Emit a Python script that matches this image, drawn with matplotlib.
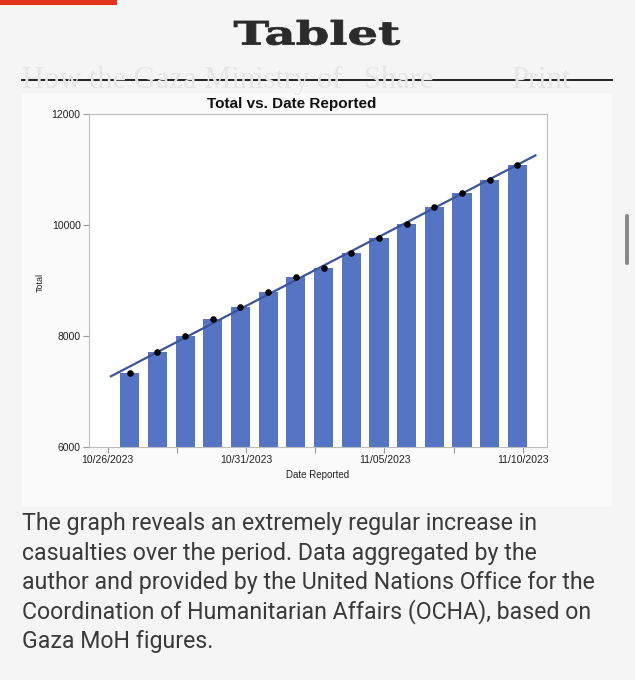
import numpy as np
import pandas as pd
import matplotlib
matplotlib.use("Agg")
import matplotlib.pyplot as plt
import matplotlib.dates as mdates
from matplotlib.patches import Rectangle, FancyBboxPatch, PathPatch
from matplotlib.textpath import TextPath
from matplotlib.font_manager import FontProperties
from matplotlib.transforms import Affine2D

# data (Gaza MoH totals as reported by OCHA)
dates_reported = ["2023-10-27", "2023-10-28", "2023-10-29", "2023-10-30", "2023-10-31",
                  "2023-11-01", "2023-11-02", "2023-11-03", "2023-11-04", "2023-11-05",
                  "2023-11-06", "2023-11-07", "2023-11-08", "2023-11-09", "2023-11-10"]
totals = [7326, 7703, 8005, 8306, 8525, 8796, 9061, 9227, 9488, 9770,
          10022, 10328, 10569, 10812, 11078]
tick_dates = ["2023-10-26", "2023-10-31", "2023-11-05", "2023-11-10"]
tick_labels = ["10/26/2023", "10/31/2023", "11/05/2023", "11/10/2023"]
y_ticks = [6000, 8000, 10000, 12000]

caption = ["The graph reveals an extremely regular increase in",
           "casualties over the period. Data aggregated by the",
           "author and provided by the United Nations Office for the",
           "Coordination of Humanitarian Affairs (OCHA), based on",
           "Gaza MoH figures."]

W, H = 635, 680
fig = plt.figure(figsize=(W / 100, H / 100), dpi=100)
fig.patch.set_facecolor("#f5f5f5")

# page decorations drawn in pixel coordinates
bg = fig.add_axes([0, 0, 1, 1], zorder=0)
bg.set_xlim(0, W)
bg.set_ylim(H, 0)
bg.axis("off")

bg.add_patch(Rectangle((0, 0), 117, 5, color="#e0341e", lw=0))

fp = FontProperties(family="DejaVu Serif", weight="bold")
logo = TextPath((0, 0), "Tablet", size=1, prop=fp)
bb = logo.get_extents()
tr = (Affine2D().translate(-bb.x0, -bb.y0)
      .scale(166 / bb.width, -25 / bb.height).translate(234, 45))
bg.add_patch(PathPatch(tr.transform_path(logo), color="#2b2b2b", lw=0.6))

faded = "#e6e6e6"
bg.text(22, 88, "How the Gaza Ministry of", fontsize=22, family="Liberation Serif",
        color=faded, va="baseline")
bg.text(364, 88, "Share", fontsize=22, family="Liberation Serif", color=faded, va="baseline")
bg.text(511, 88, "Print", fontsize=22, family="Liberation Serif", color=faded, va="baseline")
bg.plot([22, 612], [80, 80], color="#111111", lw=1.3)

bg.add_patch(Rectangle((22, 93), 590, 414, color="#fbfbfb", lw=0))
bg.add_patch(FancyBboxPatch((625, 214), 4, 51, boxstyle="round,pad=0,rounding_size=2",
                            color="#8a8a8a", lw=0))

bg.text(292, 104, "Total vs. Date Reported", fontsize=11, weight="bold",
        family="Liberation Sans", ha="center", va="center", color="#111111")
bg.text(40, 282, "Total", fontsize=6.5, family="Liberation Sans", rotation=90,
        ha="center", va="center", color="#222222")

for k, line in enumerate(caption):
    bg.text(22, 530 + k * 29.6, line, fontsize=16.7, family="Roboto",
            color="#3a3a3a", va="baseline")

# chart
ax = fig.add_axes([89 / W, 1 - 447 / H, 457.5 / W, 333 / H], zorder=1)
ax.set_facecolor("white")

x = mdates.date2num(pd.to_datetime(dates_reported)) - 0.2
y = np.array(totals)
ax.bar(x, y, width=0.69, color="#5575c4", zorder=2)

slope, intercept = np.polyfit(x, y, 1)
xl = np.array([x[0] - 0.68, x[-1] + 0.65])
ax.plot(xl, slope * xl + intercept, color="#3b559c", lw=1.6, zorder=3)
ax.scatter(x, y, s=14, color="black", zorder=4)

xt = mdates.date2num(pd.to_datetime(tick_dates))
ax.set_xlim(xt[0] - 0.67, xt[0] + 15.85)
ax.set_ylim(6000, 12000)
ax.set_xticks(xt)
ax.set_xticklabels(tick_labels)
ax.set_xticks(xt[:-1] + 2.5, minor=True)
ax.set_yticks(y_ticks)
ax.set_yticklabels([str(v) for v in y_ticks])
ax.tick_params(which="both", length=4, width=0.8, color="#9a9a9a",
               labelsize=7.5, labelcolor="#222222", pad=2)
for s in ax.spines.values():
    s.set_color("#bdbdbd")
    s.set_linewidth(0.8)
for lbl in ax.get_xticklabels() + ax.get_yticklabels():
    lbl.set_family("Liberation Sans")
ax.set_xlabel("Date Reported", fontsize=7, family="Liberation Sans",
              color="#222222", labelpad=3)

fig.savefig("out.png", dpi=100, facecolor=fig.get_facecolor())
